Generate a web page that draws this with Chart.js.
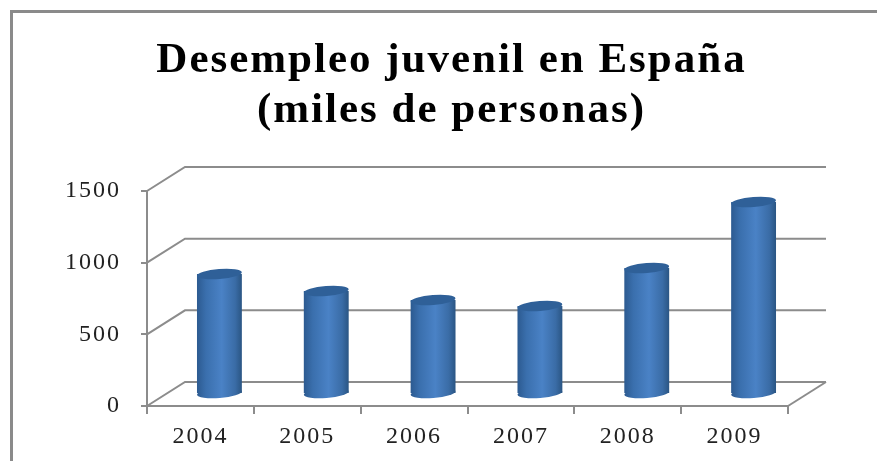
<!DOCTYPE html>
<html>
<head>
<meta charset="utf-8">
<title>Desempleo juvenil en España</title>
<script src="https://cdn.jsdelivr.net/npm/chart.js@4"></script>
<style>
    html, body { margin: 0; padding: 0; background: #fff; overflow: hidden; }
    #wrap { position: relative; width: 879px; height: 461px; }
    #frame { position: absolute; left: 10px; top: 10px; right: 2px; bottom: -4px; border-left: 3px solid #8a8a8a; border-top: 3px solid #8a8a8a; }
    canvas { position: absolute; left: 0; top: 0; filter: blur(0.6px); }
</style>
</head>
<body>
<div id="wrap">
    <div id="frame"></div>
    <canvas id="chart" width="879" height="461"></canvas>
</div>
<script>
const years = ['2004', '2005', '2006', '2007', '2008', '2009'];
const desempleo = [837, 719, 656, 614, 879, 1340];
const titleLines = ['Desempleo juvenil en España', '(miles de personas)'];

const GRID = '#8c8c8c';
const DEPTH_X = 38;
const DEPTH_Y = -24;
const BAR_SHIFT_X = 19;
const BAR_SHIFT_Y = -12;

function barGradient(context) {
    const chart = context.chart;
    if (!chart.chartArea || context.dataIndex === undefined) return '#3f72b0';
    const x = chart.scales.x.getPixelForValue(context.dataIndex);
    const half = 22.5;
    const g = chart.ctx.createLinearGradient(x - half, 0, x + half, 0);
    g.addColorStop(0, '#2c5a90');
    g.addColorStop(0.2, '#3a6fad');
    g.addColorStop(0.55, '#4a82c6');
    g.addColorStop(0.85, '#3a6ca6');
    g.addColorStop(1, '#2a5583');
    return g;
}

// fake 3d: floor and back wall lines, bars shifted into the depth, elliptical caps
const depthPlugin = {
    id: 'depth',
    beforeDraw(chart) {
        chart.ctx.letterSpacing = '2px';
    },
    beforeDatasetsDraw(chart) {
        const { ctx, scales, chartArea } = chart;
        ctx.save();
        ctx.strokeStyle = GRID;
        ctx.lineWidth = 2;
        scales.y.ticks.forEach(t => {
            const y = scales.y.getPixelForValue(t.value);
            ctx.beginPath();
            ctx.moveTo(chartArea.left, y);
            ctx.lineTo(chartArea.left + DEPTH_X, y + DEPTH_Y);
            ctx.lineTo(chartArea.right + DEPTH_X, y + DEPTH_Y);
            ctx.stroke();
        });
        ctx.beginPath();
        ctx.moveTo(chartArea.right, chartArea.bottom);
        ctx.lineTo(chartArea.right + DEPTH_X, chartArea.bottom + DEPTH_Y);
        ctx.stroke();
        ctx.restore();
    },
    beforeDatasetDraw(chart) {
        const ctx = chart.ctx;
        ctx.save();
        ctx.translate(BAR_SHIFT_X, BAR_SHIFT_Y);
        chart.getDatasetMeta(0).data.forEach((bar, i) => {
            ctx.fillStyle = barGradient({ chart, dataIndex: i });
            ctx.beginPath();
            ctx.ellipse(bar.x, bar.base, bar.width / 2, 5, -0.08, 0, Math.PI * 2);
            ctx.fill();
        });
    },
    afterDatasetDraw(chart) {
        const ctx = chart.ctx;
        chart.getDatasetMeta(0).data.forEach(bar => {
            ctx.fillStyle = '#2f6098';
            ctx.beginPath();
            ctx.ellipse(bar.x, bar.y, bar.width / 2, 5, -0.08, 0, Math.PI * 2);
            ctx.fill();
        });
        ctx.restore();
    }
};

new Chart(document.getElementById('chart'), {
    type: 'bar',
    data: {
        labels: years,
        datasets: [{
            data: desempleo,
            backgroundColor: barGradient,
            borderWidth: 0,
            categoryPercentage: 1,
            barPercentage: 0.42
        }]
    },
    options: {
        responsive: false,
        animation: false,
        layout: { padding: { left: 24 } },
        plugins: {
            legend: { display: false },
            tooltip: { enabled: false },
            title: {
                display: true,
                text: titleLines,
                color: '#000',
                font: { family: '"Liberation Serif"', size: 43, weight: 'bold', lineHeight: 1.163 },
                padding: { top: 36, bottom: 55 }
            }
        },
        scales: {
            x: {
                afterFit(scale) { scale.height = 55; },
                border: { color: GRID, width: 2 },
                grid: { drawOnChartArea: false, color: GRID, lineWidth: 2, tickLength: 8 },
                ticks: { color: '#222', padding: 8, maxRotation: 0, font: { family: '"Liberation Serif"', size: 24 } }
            },
            y: {
                min: 0,
                max: 1500,
                afterFit(scale) { scale.width = 123; },
                border: { color: GRID, width: 2 },
                grid: { drawOnChartArea: false, color: GRID, lineWidth: 2, tickLength: 6 },
                ticks: {
                    stepSize: 500,
                    color: '#222',
                    padding: 20,
                    font: { family: '"Liberation Serif"', size: 24 },
                    callback: value => String(value)
                }
            },
            // empty axis, only keeps room on the right for the depth lines
            yRight: {
                axis: 'y',
                position: 'right',
                afterFit(scale) { scale.width = 91; },
                border: { display: false },
                grid: { display: false },
                ticks: { display: false }
            }
        }
    },
    plugins: [depthPlugin]
});
</script>
</body>
</html>
